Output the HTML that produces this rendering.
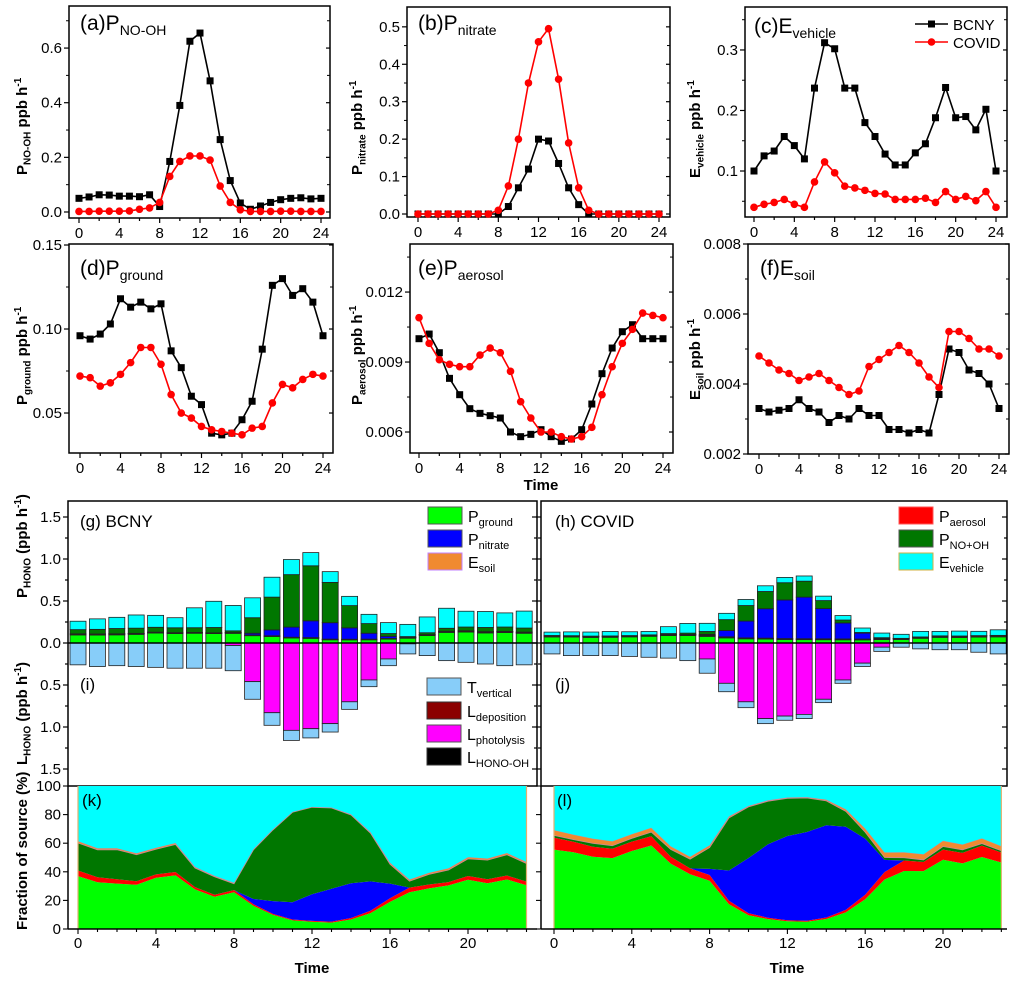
<!DOCTYPE html>
<html><head><meta charset="utf-8"><style>
html,body{margin:0;padding:0;background:#fff;}
svg{display:block;font-family:"Liberation Sans",sans-serif;}
</style></head><body>
<svg id="fig" width="1019" height="983" viewBox="0 0 1019 983" xmlns="http://www.w3.org/2000/svg"></svg>
<script>
const hours = [0,1,2,3,4,5,6,7,8,9,10,11,12,13,14,15,16,17,18,19,20,21,22,23,24];
const xTicks = [0,4,8,12,16,20,24];
const noohB = [0.05,0.055,0.063,0.062,0.058,0.058,0.056,0.063,0.02,0.185,0.39,0.625,0.655,0.48,0.265,0.115,0.033,0.01,0.022,0.035,0.045,0.05,0.052,0.048,0.05];
const noohC = [0.002,0.002,0.003,0.003,0.003,0.004,0.01,0.015,0.035,0.13,0.185,0.205,0.205,0.19,0.095,0.035,0.008,0.002,0.002,0.002,0.003,0.003,0.002,0.002,0.002];
const nitB = [0,0,0,0,0,0,0,0,0,0.02,0.07,0.12,0.2,0.195,0.135,0.07,0.025,0,0,0,0,0,0,0,0];
const nitC = [0,0,0,0,0,0,0,0,0.01,0.075,0.2,0.35,0.46,0.495,0.36,0.19,0.07,0.01,0,0,0,0,0,0,0];
const vehB = [0.1,0.125,0.133,0.157,0.142,0.12,0.237,0.312,0.302,0.237,0.237,0.18,0.157,0.128,0.11,0.11,0.13,0.145,0.188,0.238,0.188,0.19,0.168,0.202,0.1];
const vehC = [0.04,0.045,0.048,0.053,0.045,0.04,0.082,0.115,0.097,0.075,0.072,0.068,0.063,0.062,0.053,0.053,0.053,0.055,0.048,0.066,0.053,0.058,0.051,0.066,0.04];
const grdB = [0.096,0.094,0.097,0.103,0.118,0.113,0.116,0.112,0.115,0.087,0.077,0.06,0.055,0.038,0.037,0.038,0.046,0.057,0.088,0.126,0.13,0.12,0.124,0.116,0.096];
const grdC = [0.072,0.071,0.066,0.068,0.073,0.08,0.089,0.089,0.079,0.061,0.05,0.047,0.042,0.04,0.039,0.038,0.037,0.041,0.042,0.056,0.067,0.065,0.07,0.073,0.072];
const aerB = [0.0100,0.0102,0.0094,0.0083,0.0076,0.0070,0.0068,0.0067,0.0066,0.0060,0.0058,0.0059,0.0061,0.0058,0.0056,0.0057,0.0061,0.0072,0.0085,0.0096,0.0103,0.0106,0.0100,0.0100,0.0100];
const aerC = [0.0109,0.0098,0.0091,0.0089,0.0088,0.0088,0.0093,0.0096,0.0094,0.0086,0.0073,0.0066,0.0060,0.0060,0.0058,0.0057,0.0058,0.0062,0.0076,0.0088,0.0098,0.0104,0.0111,0.0110,0.0109];
const soilB = [0.0033,0.0032,0.00325,0.0033,0.00355,0.0033,0.0032,0.0029,0.0031,0.0030,0.0033,0.0031,0.0031,0.0027,0.0027,0.0026,0.0027,0.0026,0.0037,0.0050,0.0049,0.0044,0.0043,0.0040,0.0033];
const soilC = [0.0048,0.0046,0.0044,0.0043,0.0041,0.0042,0.0043,0.0041,0.0039,0.0037,0.0038,0.0045,0.0047,0.0049,0.0051,0.0049,0.0046,0.0042,0.0039,0.0055,0.0055,0.0053,0.005,0.005,0.0048];
const photB = [0,0,0,0,0,0,0,0,0.03,0.46,0.83,1.04,1.02,0.96,0.70,0.44,0.19,0.01,0,0,0,0,0,0];
const vertB = [0.26,0.28,0.27,0.28,0.29,0.30,0.30,0.30,0.30,0.21,0.15,0.12,0.11,0.10,0.09,0.08,0.08,0.12,0.15,0.21,0.23,0.25,0.27,0.26];
const photC = [0,0,0,0,0,0,0,0,0.19,0.48,0.70,0.90,0.87,0.85,0.67,0.44,0.24,0.05,0,0,0,0,0,0];
const vertC = [0.13,0.15,0.15,0.15,0.16,0.17,0.18,0.21,0.17,0.10,0.07,0.06,0.05,0.05,0.04,0.04,0.04,0.05,0.05,0.07,0.08,0.08,0.11,0.13];
const barTicks = [1.5,1.0,0.5,0.0,-0.5,-1.0,-1.5];
const barTickLabels = ["1.5","1.0","0.5","0.0","0.5","1.0","1.5"];
const fracTicks = [0,20,40,60,80,100];
const fracXTicks = [0,4,8,12,16,20];

const NS = "http://www.w3.org/2000/svg";
const svg = document.getElementById('fig');
function mk(tag, attrs, parent) {
  const el = document.createElementNS(NS, tag);
  for (const k in attrs) el.setAttribute(k, attrs[k]);
  (parent || svg).appendChild(el);
  return el;
}
function txt(x, y, s, size, anchor, weight, nm, parent) {
  const t = mk('text', {x: x, y: y, 'font-size': size, 'text-anchor': anchor || 'start', 'font-weight': weight || 'normal', fill: '#000'}, parent);
  t.textContent = s;
  
  
  return t;
}
// subscripted label: parts [[text, sub?]]
function subLabel(x, y, parts, size, subSize, weight, nm, rotate, anchor) {
  const t = mk('text', {x: x, y: y, 'font-size': size, 'font-weight': weight || 'normal', 'text-anchor': anchor || 'start', fill: '#000'});
  if (rotate) t.setAttribute('transform', 'rotate(-90 ' + x + ' ' + y + ')');
  
  
  let shift = 0;
  parts.forEach(p => {
    const ts = mk('tspan', {}, t);
    const want = p[1] === 'sub' ? subSize * 0.35 : (p[1] === 'sup' ? -size * 0.4 : 0);
    const d = want - shift;
    if (d !== 0) ts.setAttribute('dy', d);
    shift = want;
    if (p[1]) ts.setAttribute('font-size', subSize);
    ts.textContent = p[0];
  });
  return t;
}

function lineChart(c) {
  const g = mk('g', {});
  
  
  const sx = h => c.xa + h * (c.xb - c.xa) / 24;
  const sy = v => c.y1 - (v - c.ymin) / (c.ymax - c.ymin) * (c.y1 - c.y0);
  const fr = mk('rect', {x: c.x0, y: c.y0, width: c.x1 - c.x0, height: c.y1 - c.y0, fill: 'none', stroke: '#000', 'stroke-width': 1.5}, g);
  
  
  for (let h = 0; h <= 24; h += 2) {
    const L = h % 4 === 0 ? 5 : 3;
    const tk = mk('line', {x1: sx(h), x2: sx(h), y1: c.y1, y2: c.y1 + L, stroke: '#000', 'stroke-width': 1.2}, g);
    
  }
  xTicks.forEach(h => txt(sx(h), c.y1 + 20, String(h), 15, 'middle', 'normal', 'x-tick-label', g));
  c.yt.forEach((v, i) => {
    const y = sy(v);
    const tk = mk('line', {x1: c.x0 - 5, x2: c.x0, y1: y, y2: y, stroke: '#000', 'stroke-width': 1.2}, g);
    
    const tr = mk('line', {x1: c.x1 - 4, x2: c.x1, y1: y, y2: y, stroke: '#000', 'stroke-width': 1.2}, g);
    
    txt(c.x0 - 7, y + 5, c.ytl[i], 15, 'end', 'normal', 'y-tick-label', g);
  });
  c.ym.forEach(v => {
    const y = sy(v);
    const tk = mk('line', {x1: c.x0 - 3, x2: c.x0, y1: y, y2: y, stroke: '#000', 'stroke-width': 1}, g);
    
    const tr = mk('line', {x1: c.x1 - 3, x2: c.x1, y1: y, y2: y, stroke: '#000', 'stroke-width': 1}, g);
    
  });
  [[c.b, '#000', 'sq', 'bcny-series'], [c.cv, '#ff0000', 'ci', 'covid-series']].forEach(s => {
    const arr = s[0];
    const pts = hours.map(h => sx(h).toFixed(1) + ',' + sy(arr[h]).toFixed(1)).join(' ');
    const pl = mk('polyline', {points: pts, fill: 'none', stroke: s[1], 'stroke-width': 1.6}, g);
    
    
    hours.forEach(h => {
      let m;
      if (s[2] === 'sq') m = mk('rect', {x: sx(h) - 3.5, y: sy(arr[h]) - 3.5, width: 7, height: 7, fill: s[1]}, g);
      else m = mk('circle', {cx: sx(h), cy: sy(arr[h]), r: 3.8, fill: s[1]}, g);
      
      
    });
  });
}

lineChart({name:'panel-a-pno-oh', x0:69,x1:330,y0:6,y1:218,xa:79,xb:321,ymin:-0.022,ymax:0.754,yt:[0,0.2,0.4,0.6],ytl:['0.0','0.2','0.4','0.6'],ym:[0.1,0.3,0.5,0.7],b:noohB,cv:noohC});
lineChart({name:'panel-b-pnitrate', x0:407,x1:670,y0:7,y1:217,xa:418,xb:659,ymin:-0.008,ymax:0.553,yt:[0,0.1,0.2,0.3,0.4,0.5],ytl:['0.0','0.1','0.2','0.3','0.4','0.5'],ym:[0.05,0.15,0.25,0.35,0.45],b:nitB,cv:nitC});
lineChart({name:'panel-c-evehicle', x0:745,x1:1007,y0:7,y1:217,xa:754,xb:996,ymin:0.024,ymax:0.371,yt:[0.1,0.2,0.3],ytl:['0.1','0.2','0.3'],ym:[0.05,0.15,0.25,0.35],b:vehB,cv:vehC});
lineChart({name:'panel-d-pground', x0:69,x1:333,y0:244,y1:453,xa:80,xb:323,ymin:0.0262,ymax:0.1506,yt:[0.05,0.10,0.15],ytl:['0.05','0.10','0.15'],ym:[0.075,0.125],b:grdB,cv:grdC});
lineChart({name:'panel-e-paerosol', x0:410,x1:673,y0:244,y1:453,xa:419,xb:663,ymin:0.0051,ymax:0.01406,yt:[0.006,0.009,0.012],ytl:['0.006','0.009','0.012'],ym:[0.0075,0.0105,0.0135],b:aerB,cv:aerC});
lineChart({name:'panel-f-esoil', x0:748,x1:1009,y0:244,y1:454,xa:759,xb:999,ymin:0.002,ymax:0.008,yt:[0.002,0.004,0.006,0.008],ytl:['0.002','0.004','0.006','0.008'],ym:[0.003,0.005,0.007],b:soilB,cv:soilC});

// panel titles
subLabel(80, 30, [['(a)'], ['P'], ['NO-OH','sub']], 21, 14, 'normal', 'panel-a-title');
subLabel(418, 30, [['(b)'], ['P'], ['nitrate','sub']], 21, 14, 'normal', 'panel-b-title');
subLabel(754, 33, [['(c)'], ['E'], ['vehicle','sub']], 21, 14, 'normal', 'panel-c-title');
subLabel(80, 275, [['(d)'], ['P'], ['ground','sub']], 21, 14, 'normal', 'panel-d-title');
subLabel(418, 275, [['(e)'], ['P'], ['aerosol','sub']], 21, 14, 'normal', 'panel-e-title');
subLabel(760, 275, [['(f)'], ['E'], ['soil','sub']], 21, 14, 'normal', 'panel-f-title');
// y titles
subLabel(27, 175, [['P'], ['NO-OH','sub'], [' ppb h'], ['-1','sup']], 15, 10, 'bold', 'panel-a-y-title', true);
subLabel(362, 175, [['P'], ['nitrate','sub'], [' ppb h'], ['-1','sup']], 15, 10, 'bold', 'panel-b-y-title', true);
subLabel(700, 178, [['E'], ['vehicle','sub'], [' ppb h'], ['-1','sup']], 15, 10, 'bold', 'panel-c-y-title', true);
subLabel(27, 405, [['P'], ['ground','sub'], [' ppb h'], ['-1','sup']], 15, 10, 'bold', 'panel-d-y-title', true);
subLabel(362, 405, [['P'], ['aerosol','sub'], [' ppb h'], ['-1','sup']], 15, 10, 'bold', 'panel-e-y-title', true);
subLabel(700, 400, [['E'], ['soil','sub'], [' ppb h'], ['-1','sup']], 15, 10, 'bold', 'panel-f-y-title', true);
txt(541, 490, 'Time', 15, 'middle', 'bold', 'row2-x-title');
// legend in c
(function(){
  const g = mk('g', {});
  
  
  const l1 = mk('line', {x1: 915, x2: 948, y1: 24, y2: 24, stroke: '#000', 'stroke-width': 1.6}, g);
  
  const m1 = mk('rect', {x: 928, y: 20.5, width: 7, height: 7, fill: '#000'}, g);
  
  txt(953, 30, 'BCNY', 15, 'start', 'normal', 'legend-bcny-label', g);
  const l2 = mk('line', {x1: 915, x2: 948, y1: 42, y2: 42, stroke: '#f00', 'stroke-width': 1.6}, g);
  
  const m2 = mk('circle', {cx: 931.5, cy: 42, r: 3.8, fill: '#f00'}, g);
  
  txt(953, 48, 'COVID', 15, 'start', 'normal', 'legend-covid-label', g);
})();

// ---------- bar panels ----------
const COL = {grd:'#00ff00', aer:'#ff0000', soil:'#f08a30', nit:'#0000ff', nooh:'#007700', veh:'#00ffff', phot:'#ff00ff', vert:'#87cdf9', dep:'#8b0000', oh:'#000'};
function barPanel(p) {
  const g = mk('g', {});
  
  
  const sy = v => 643 - v * 84;
  const bx = i => p.xa + i * 19.4;
  for (let i = 0; i < 24; i++) {
    let acc = 0;
    p.pos.forEach(s => {
      const v = s[0][i];
      const r = mk('rect', {x: bx(i) - 8, y: sy(acc + v), width: 16, height: Math.max(v * 84, 0.01), fill: s[1], stroke: '#222', 'stroke-width': 0.8}, g);
      
      
      acc += v;
    });
    let neg = 0;
    p.neg.forEach(s => {
      const v = s[0][i];
      const r = mk('rect', {x: bx(i) - 8, y: sy(-neg), width: 16, height: Math.max(v * 84, 0.01), fill: s[1], stroke: '#222', 'stroke-width': 0.8}, g);
      
      
      neg += v;
    });
  }
  const z = mk('line', {x1: p.x0, x2: p.x1, y1: 643, y2: 643, stroke: '#000', 'stroke-width': 1.5}, g);
  
  const fr = mk('rect', {x: p.x0, y: 501, width: p.x1 - p.x0, height: 285, fill: 'none', stroke: '#000', 'stroke-width': 1.5}, g);
  
  for (let v = -1.5; v <= 1.51; v += 0.25) {
    const major = Math.abs(v * 2 - Math.round(v * 2)) < 0.01;
    const L = major ? 5 : 3;
    const t1 = mk('line', {x1: p.x0 - L, x2: p.x0, y1: sy(v), y2: sy(v), stroke: '#000', 'stroke-width': 1.2}, g);
    
    const t2 = mk('line', {x1: p.x1 - L, x2: p.x1, y1: sy(v), y2: sy(v), stroke: '#000', 'stroke-width': 1.2}, g);
    
  }
  if (p.labels) barTicks.forEach((v, i) => txt(p.x0 - 7, sy(v) + 5, barTickLabels[i], 15, 'end', 'normal', 'y-tick-label', g));
}
barPanel({name:'panel-g-i-bcny-bars', x0:68, x1:537, xa:78, labels:true,
  pos:[[grdB,COL.grd,'bar-pground'],[aerB,COL.aer,'bar-paerosol'],[soilB,COL.soil,'bar-esoil'],[nitB,COL.nit,'bar-pnitrate'],[noohB,COL.nooh,'bar-pno-oh'],[vehB,COL.veh,'bar-evehicle']],
  neg:[[photB,COL.phot,'bar-lphotolysis'],[vertB,COL.vert,'bar-tvertical']]});
barPanel({name:'panel-h-j-covid-bars', x0:541, x1:1007, xa:552, labels:false,
  pos:[[grdC,COL.grd,'bar-pground'],[aerC,COL.aer,'bar-paerosol'],[soilC,COL.soil,'bar-esoil'],[nitC,COL.nit,'bar-pnitrate'],[noohC,COL.nooh,'bar-pno-oh'],[vehC,COL.veh,'bar-evehicle']],
  neg:[[photC,COL.phot,'bar-lphotolysis'],[vertC,COL.vert,'bar-tvertical']]});
txt(80, 527, '(g) BCNY', 17, 'start', 'normal', 'panel-g-title');
txt(80, 690, '(i)', 17, 'start', 'normal', 'panel-i-title');
txt(555, 527, '(h) COVID', 17, 'start', 'normal', 'panel-h-title');
txt(555, 690, '(j)', 17, 'start', 'normal', 'panel-j-title');
subLabel(27, 598, [['P'], ['HONO','sub'], [' (ppb h'], ['-1','sup'], [')']], 15, 10, 'bold', 'phono-y-title', true);
subLabel(27, 765, [['L'], ['HONO','sub'], [' (ppb h'], ['-1','sup'], [')']], 15, 10, 'bold', 'lhono-y-title', true);

function legendBox(x, y, color, stroke, parts, nm) {
  const r = mk('rect', {x: x, y: y, width: 34, height: 17, fill: color, stroke: stroke, 'stroke-width': 1});
  
  
  subLabel(x + 40, y + 15, parts, 16, 11, 'normal', nm + '-label');
}
legendBox(428, 507, COL.grd, '#555', [['P'], ['ground','sub']], 'legend-pground');
legendBox(428, 530, COL.nit, '#555', [['P'], ['nitrate','sub']], 'legend-pnitrate');
legendBox(428, 553, COL.soil, '#c080ff', [['E'], ['soil','sub']], 'legend-esoil');
legendBox(427, 678, COL.vert, '#555', [['T'], ['vertical','sub']], 'legend-tvertical');
legendBox(427, 702, COL.dep, '#333', [['L'], ['deposition','sub']], 'legend-ldeposition');
legendBox(427, 725, COL.phot, '#555', [['L'], ['photolysis','sub']], 'legend-lphotolysis');
legendBox(427, 748, COL.oh, '#333', [['L'], ['HONO-OH','sub']], 'legend-lhono-oh');
legendBox(899, 507, COL.aer, '#f55', [['P'], ['aerosol','sub']], 'legend-paerosol');
legendBox(899, 530, COL.nooh, '#555', [['P'], ['NO+OH','sub']], 'legend-pno-oh');
legendBox(899, 553, COL.veh, '#d0b040', [['E'], ['vehicle','sub']], 'legend-evehicle');

// ---------- fraction panels ----------
function fracPanel(p) {
  const g = mk('g', {});
  
  
  const sx = h => p.xa + h * p.dx;
  const sy = v => 929 - v * 1.43;
  const idx = hours.slice(0, 24);
  const tot = idx.map(i => p.series.reduce((a, s) => a + s[0][i], 0));
  let lower = idx.map(() => 0);
  p.series.forEach(s => {
    const upper = idx.map((i, k) => lower[k] + s[0][i] / tot[k] * 100);
    let d = 'M' + idx.map(i => sx(i).toFixed(1) + ',' + sy(upper[i]).toFixed(1)).join(' L');
    d += ' L' + idx.slice().reverse().map(i => sx(i).toFixed(1) + ',' + sy(lower[i]).toFixed(1)).join(' L') + ' Z';
    const pa = mk('path', {d: d, fill: s[1], stroke: s[3] || 'none', 'stroke-width': 0.8}, g);
    
    
    lower = upper;
  });
  const e1 = mk('line', {x1: sx(0), x2: sx(0), y1: 786, y2: 929, stroke: '#e0b070', 'stroke-width': 1.2}, g);
  
  const e2 = mk('line', {x1: sx(23), x2: sx(23), y1: 786, y2: 929, stroke: '#e0b070', 'stroke-width': 1.2}, g);
  
  const ax = mk('line', {x1: p.x0, x2: p.x1, y1: 929, y2: 929, stroke: '#000', 'stroke-width': 1.5}, g);
  
  const ay = mk('line', {x1: p.x0, x2: p.x0, y1: 786, y2: 929, stroke: '#000', 'stroke-width': 1.5}, g);
  
  for (let h = 0; h <= 23; h++) {
    const L = h % 4 === 0 ? 5 : 3;
    const t = mk('line', {x1: sx(h), x2: sx(h), y1: 929, y2: 929 + L, stroke: '#000', 'stroke-width': 1.1}, g);
    
  }
  fracXTicks.forEach(h => txt(sx(h), 948, String(h), 15, 'middle', 'normal', 'x-tick-label', g));
  fracTicks.forEach(v => {
    const t = mk('line', {x1: p.x0 - 5, x2: p.x0, y1: sy(v), y2: sy(v), stroke: '#000', 'stroke-width': 1.1}, g);
    
    if (p.labels) txt(p.x0 - 7, sy(v) + 5, String(v), 15, 'end', 'normal', 'y-tick-label', g);
  });
  txt(p.timeX, 973, 'Time', 15, 'middle', 'bold', 'x-axis-title', g);
}
fracPanel({name:'panel-k-bcny-fraction', x0:68, x1:537, xa:78, dx:19.5, labels:true, timeX:312,
  series:[[grdB,COL.grd,'area-pground'],[aerB,COL.aer,'area-paerosol'],[nitB,COL.nit,'area-pnitrate'],[noohB,COL.nooh,'area-pno-oh'],[soilB,COL.soil,'area-esoil','#c89'],[vehB,COL.veh,'area-evehicle']]});
fracPanel({name:'panel-l-covid-fraction', x0:541, x1:1007, xa:554, dx:19.45, labels:false, timeX:787,
  series:[[grdC,COL.grd,'area-pground'],[aerC,COL.aer,'area-paerosol'],[nitC,COL.nit,'area-pnitrate'],[noohC,COL.nooh,'area-pno-oh'],[soilC,COL.soil,'area-esoil','#c89'],[vehC,COL.veh,'area-evehicle']]});
txt(82, 806, '(k)', 17, 'start', 'normal', 'panel-k-title');
txt(557, 806, '(l)', 17, 'start', 'normal', 'panel-l-title');
subLabel(27, 930, [['Fraction of source (%)']], 15, 10, 'bold', 'fraction-y-title', true);
</script>
</body></html>
